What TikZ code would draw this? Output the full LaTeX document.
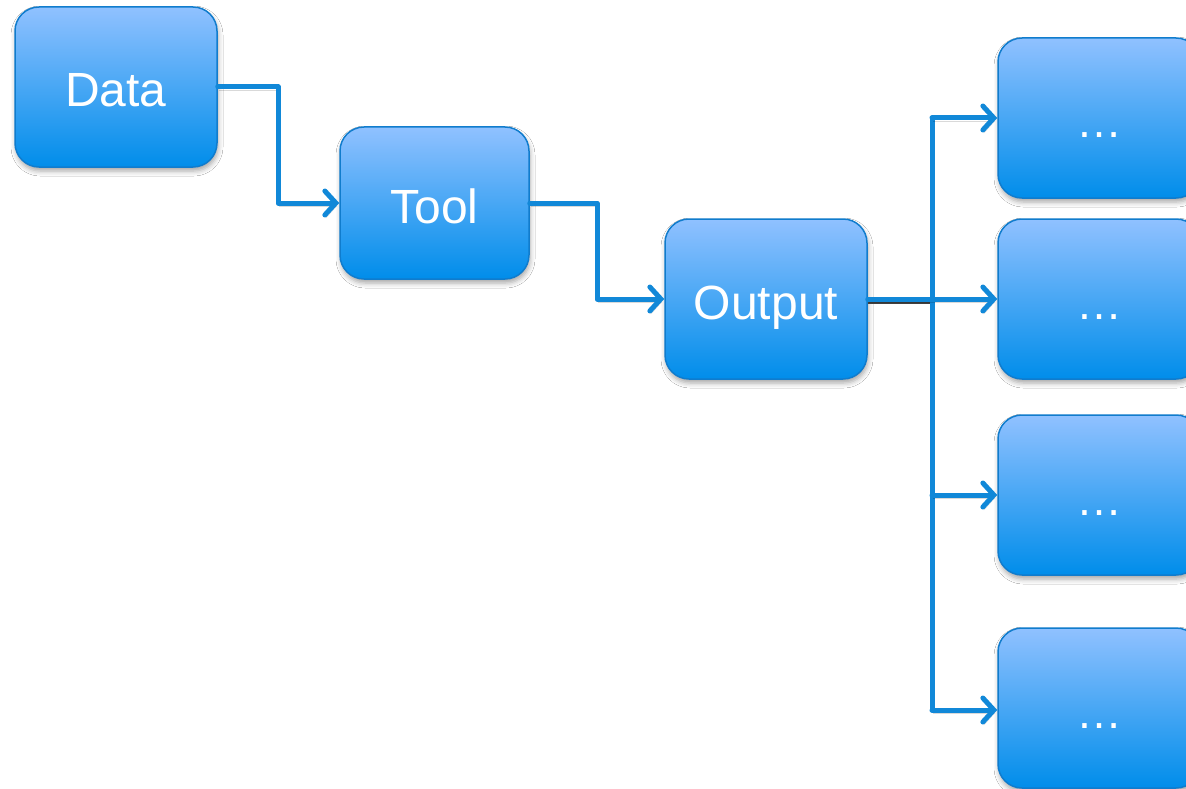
\documentclass[tikz,border=0pt]{standalone}
\usepackage{fontspec}
\setmainfont{Liberation Sans}
\usetikzlibrary{arrows.meta,shadows.blur}

\definecolor{boxtop}{RGB}{144,193,255}
\definecolor{boxbot}{RGB}{0,141,234}
\definecolor{boxline}{RGB}{16,124,205}
\definecolor{wirecol}{RGB}{17,136,216}

\tikzset{
  block/.style={rounded corners=24pt, draw=boxline, line width=1.5pt,
    top color=boxtop, bottom color=boxbot,
    minimum width=202pt, minimum height=160pt, inner sep=0pt,
    text=white, font=\fontsize{48}{56}\selectfont,
    text height=40pt, text depth=0pt,
    blur shadow={shadow xshift=1pt, shadow yshift=-4pt,
      shadow blur radius=5pt, shadow opacity=35}},
  result/.style={block, font=\fontsize{46}{52}\selectfont},
  wire/.style={draw=wirecol, line width=5pt, line cap=round, line join=round,
    preaction={draw=black, opacity=0.15,
      transform canvas={shift={(1pt,-3pt)}}}},
  arr/.style={wire, -{Straight Barb[length=11pt,width=24pt,line cap=round]}}
}

\begin{document}
\begin{tikzpicture}[x=1pt,y=-1pt]
\useasboundingbox (0,0) rectangle (1186,789);
\fill[white] (0,0) rectangle (1186,789);

% main chain
\node[block] (data)   at (116,87)  {Data};
\node[block, minimum width=189pt, minimum height=152pt] (tool) at (434.5,203) {Tool};
\node[block] (output) at (766,299) {Output};

% result boxes on the right
\node[result] (r1) at (1099,118) {…};
\node[result] (r2) at (1099,299) {…};
\node[result] (r3) at (1099,495) {…};
\node[result] (r4) at (1099,708) {…};

% elbow points and the distribution bus
\coordinate (j1) at (278,87);
\coordinate (j2) at (597,203);
\coordinate (btop) at (932,118);
\coordinate (bbot) at (932,710);

\draw[arr] (data.east) -- (j1) |- (tool.west);
\draw[arr] (tool.east) -- (j2) |- (output.west);

% output feeding the bus
\draw[draw=black!75, line width=4.5pt, transform canvas={shift={(0pt,-2.5pt)}}]
  (output.east) -- (output.east -| btop);
\draw[wire] (btop) -- (bbot);
\draw[wire] (output.east) -- (output.east -| btop);

\draw[arr] (btop) -- (r1.west);
\draw[arr] (output.east -| btop) -- (r2.west);
\draw[arr] (btop |- r3.west) -- (r3.west);
\draw[arr] (bbot) -- (bbot -| r4.west);
\end{tikzpicture}
\end{document}
